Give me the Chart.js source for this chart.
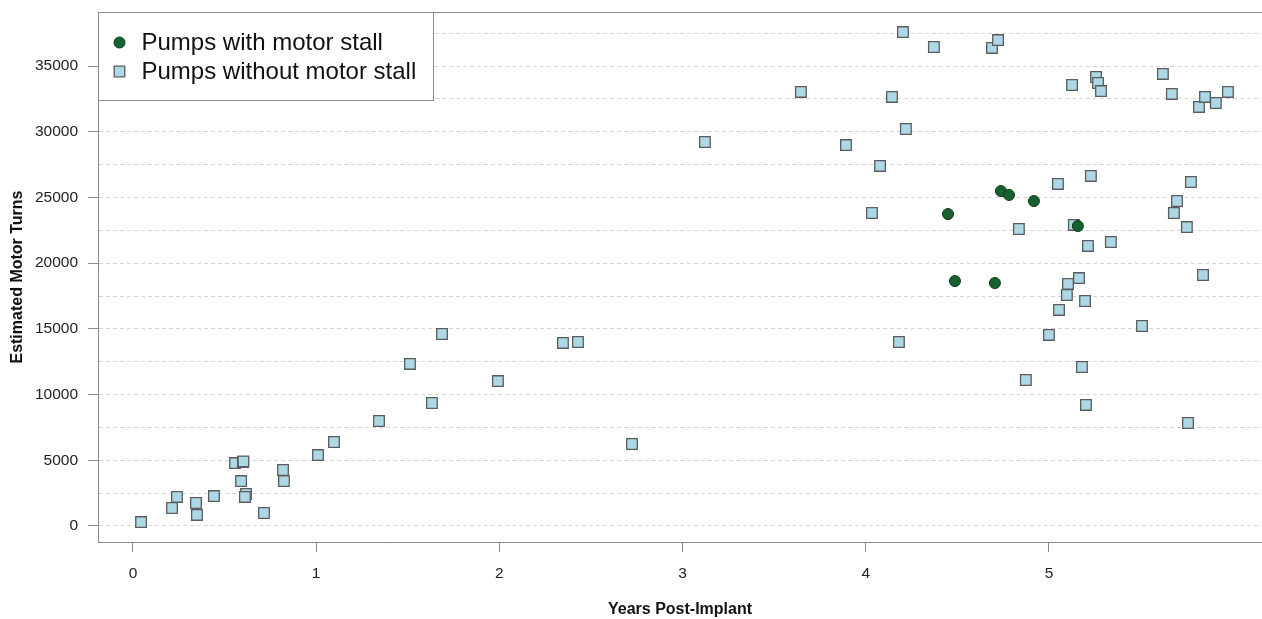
<!DOCTYPE html>
<html>
<head>
<meta charset="utf-8">
<script src="https://cdn.jsdelivr.net/npm/chart.js@4.4.1/dist/chart.umd.min.js"></script>
<style>
  html, body { margin: 0; padding: 0; background: #fff; }
  #wrap { width: 1262px; height: 619px; }
</style>
</head>
<body>
<div id="wrap"><canvas id="chart" width="1262" height="619"></canvas></div>
<script>
  // pumps that had a motor stall
  const stallYears = [4.738, 4.782, 4.918, 4.449, 5.158, 4.487, 4.705];
  const stallTurns = [25490, 25190, 24730, 23740, 22830, 18640, 18490];

  // pumps without a motor stall
  const okYears = [
    0.044, 0.213, 0.240, 0.344, 0.349, 0.442, 0.557, 0.600, 0.603, 0.590, 0.617, 0.611,
    0.715, 0.819, 0.824, 1.010, 1.097, 1.343, 1.512, 1.632, 1.687, 1.992, 2.347, 2.429,
    2.724, 3.122, 3.646, 3.892, 4.034, 4.078, 4.143, 4.181, 4.203, 4.219, 4.372, 4.689,
    4.722, 4.836, 4.874, 5.000, 5.049, 5.055, 5.098, 5.104, 5.126, 5.136, 5.164, 5.180,
    5.197, 5.202, 5.213, 5.229, 5.257, 5.268, 5.284, 5.338, 5.508, 5.622, 5.671, 5.682,
    5.699, 5.753, 5.759, 5.775, 5.819, 5.841, 5.852, 5.911, 5.977
  ];
  const okTurns = [
    300, 1370, 2210, 1750, 840, 2280, 4790, 4870, 4920, 3420, 2440, 2210,
    990, 4260, 3420, 5400, 6390, 7990, 12330, 9360, 14610, 11030, 13930, 14000,
    6240, 29220, 33030, 28990, 23820, 27400, 32650, 14000, 37590, 30210, 36450, 36380,
    36980, 22600, 11110, 14540, 26030, 16440, 17580, 18420, 33560, 22910, 18870, 12100,
    17120, 9210, 21310, 26640, 34170, 33710, 33100, 21610, 15220, 34400, 32880, 23820,
    24730, 22750, 7840, 26180, 31890, 19100, 32650, 32190, 33030
  ];

  const xTicks = [0, 1, 2, 3, 4, 5];
  const yGrid  = [0, 2500, 5000, 7500, 10000, 12500, 15000, 17500, 20000, 22500, 25000, 27500, 30000, 32500, 35000, 37500];
  const seriesNames = ['Pumps with motor stall', 'Pumps without motor stall'];

  const FONT = '"Liberation Sans", Arial, sans-serif';
  const AXIS = '#8a8a8a';

  const toPts = (xs, ys) => xs.map((x, i) => ({ x: x, y: ys[i] }));

  // box top edge + legend drawn inside the plot
  const boxLegend = {
    id: 'boxLegend',
    afterDraw(chart) {
      const { ctx, chartArea: a } = chart;
      ctx.save();
      ctx.strokeStyle = AXIS;
      ctx.lineWidth = 1;
      ctx.beginPath();
      ctx.moveTo(a.left, a.top + 0.5);
      ctx.lineTo(a.right, a.top + 0.5);
      ctx.stroke();

      const bx = a.left + 0.5, by = a.top + 0.5, bw = 335, bh = 88;
      ctx.fillStyle = '#fff';
      ctx.fillRect(bx, by, bw, bh);
      ctx.strokeRect(bx, by, bw, bh);

      ctx.font = '24px ' + FONT;
      ctx.textBaseline = 'middle';
      ctx.textAlign = 'left';
      chart.data.datasets.forEach((ds, i) => {
        const cy = by + 30 + i * 29;
        const cx = bx + 21;
        ctx.fillStyle = ds.backgroundColor;
        ctx.strokeStyle = ds.borderColor;
        ctx.lineWidth = ds.borderWidth;
        ctx.beginPath();
        if (ds.pointStyle === 'rect') {
          ctx.rect(cx - 5.3, cy - 5.3, 10.6, 10.6);
        } else {
          ctx.arc(cx, cy, ds.pointRadius, 0, Math.PI * 2);
        }
        ctx.fill();
        ctx.stroke();
        ctx.fillStyle = '#111';
        ctx.fillText(ds.label, bx + 43, cy + 1);
      });
      ctx.restore();
    }
  };

  new Chart(document.getElementById('chart'), {
    type: 'scatter',
    data: {
      datasets: [
        { label: seriesNames[0], data: toPts(stallYears, stallTurns), pointStyle: 'circle', pointRadius: 5.5,
          backgroundColor: '#17602f', borderColor: '#0c3b1b', borderWidth: 1 },
        { label: seriesNames[1], data: toPts(okYears, okTurns), pointStyle: 'rect', pointRadius: 7.5,
          backgroundColor: '#add8e6', borderColor: '#5c5c5c', borderWidth: 1.3 }
      ]
    },
    options: {
      responsive: false,
      animation: false,
      devicePixelRatio: 1,
      events: [],
      layout: { autoPadding: false, padding: { top: 12, right: 0, left: 0, bottom: 0 } },
      plugins: { legend: { display: false }, tooltip: { enabled: false } },
      scales: {
        x: {
          type: 'linear',
          min: -0.191, max: 6.163,
          afterBuildTicks: s => { s.ticks = xTicks.map(v => ({ value: v })); },
          afterFit: s => { s.height = 77; s.paddingLeft = 0; s.paddingRight = 0; },
          grid: { drawOnChartArea: false, drawTicks: true, tickLength: 10, tickColor: AXIS, color: AXIS },
          border: { display: true, color: AXIS, width: 1 },
          ticks: { color: '#222', padding: 12, font: { family: FONT, size: 15.5 } },
          title: { display: true, text: 'Years Post-Implant', color: '#111', padding: { top: 0, bottom: 0 },
                   font: { family: FONT, size: 16, weight: 'bold' } }
        },
        y: {
          type: 'linear',
          min: -1218, max: 39115,
          afterBuildTicks: s => { s.ticks = yGrid.map(v => ({ value: v })); },
          afterFit: s => { s.width = 98; s.paddingTop = 0; s.paddingBottom = 0; },
          grid: {
            color: '#d4d4d4', lineWidth: 1, drawTicks: true, tickLength: 10,
            tickColor: c => (c.tick && c.tick.value % 5000 === 0) ? AXIS : 'rgba(0,0,0,0)',
            tickBorderDash: []
          },
          border: { display: true, color: AXIS, width: 1, dash: [4, 3] },
          ticks: {
            color: '#222', padding: 10, font: { family: FONT, size: 15.5 },
            callback: v => (v % 5000 === 0 ? String(v) : '')
          },
          title: { display: true, text: 'Estimated Motor Turns', color: '#111', padding: { top: 8, bottom: 0 },
                   font: { family: FONT, size: 16, weight: 'bold' } }
        }
      }
    },
    plugins: [boxLegend]
  });
</script>
</body>
</html>
